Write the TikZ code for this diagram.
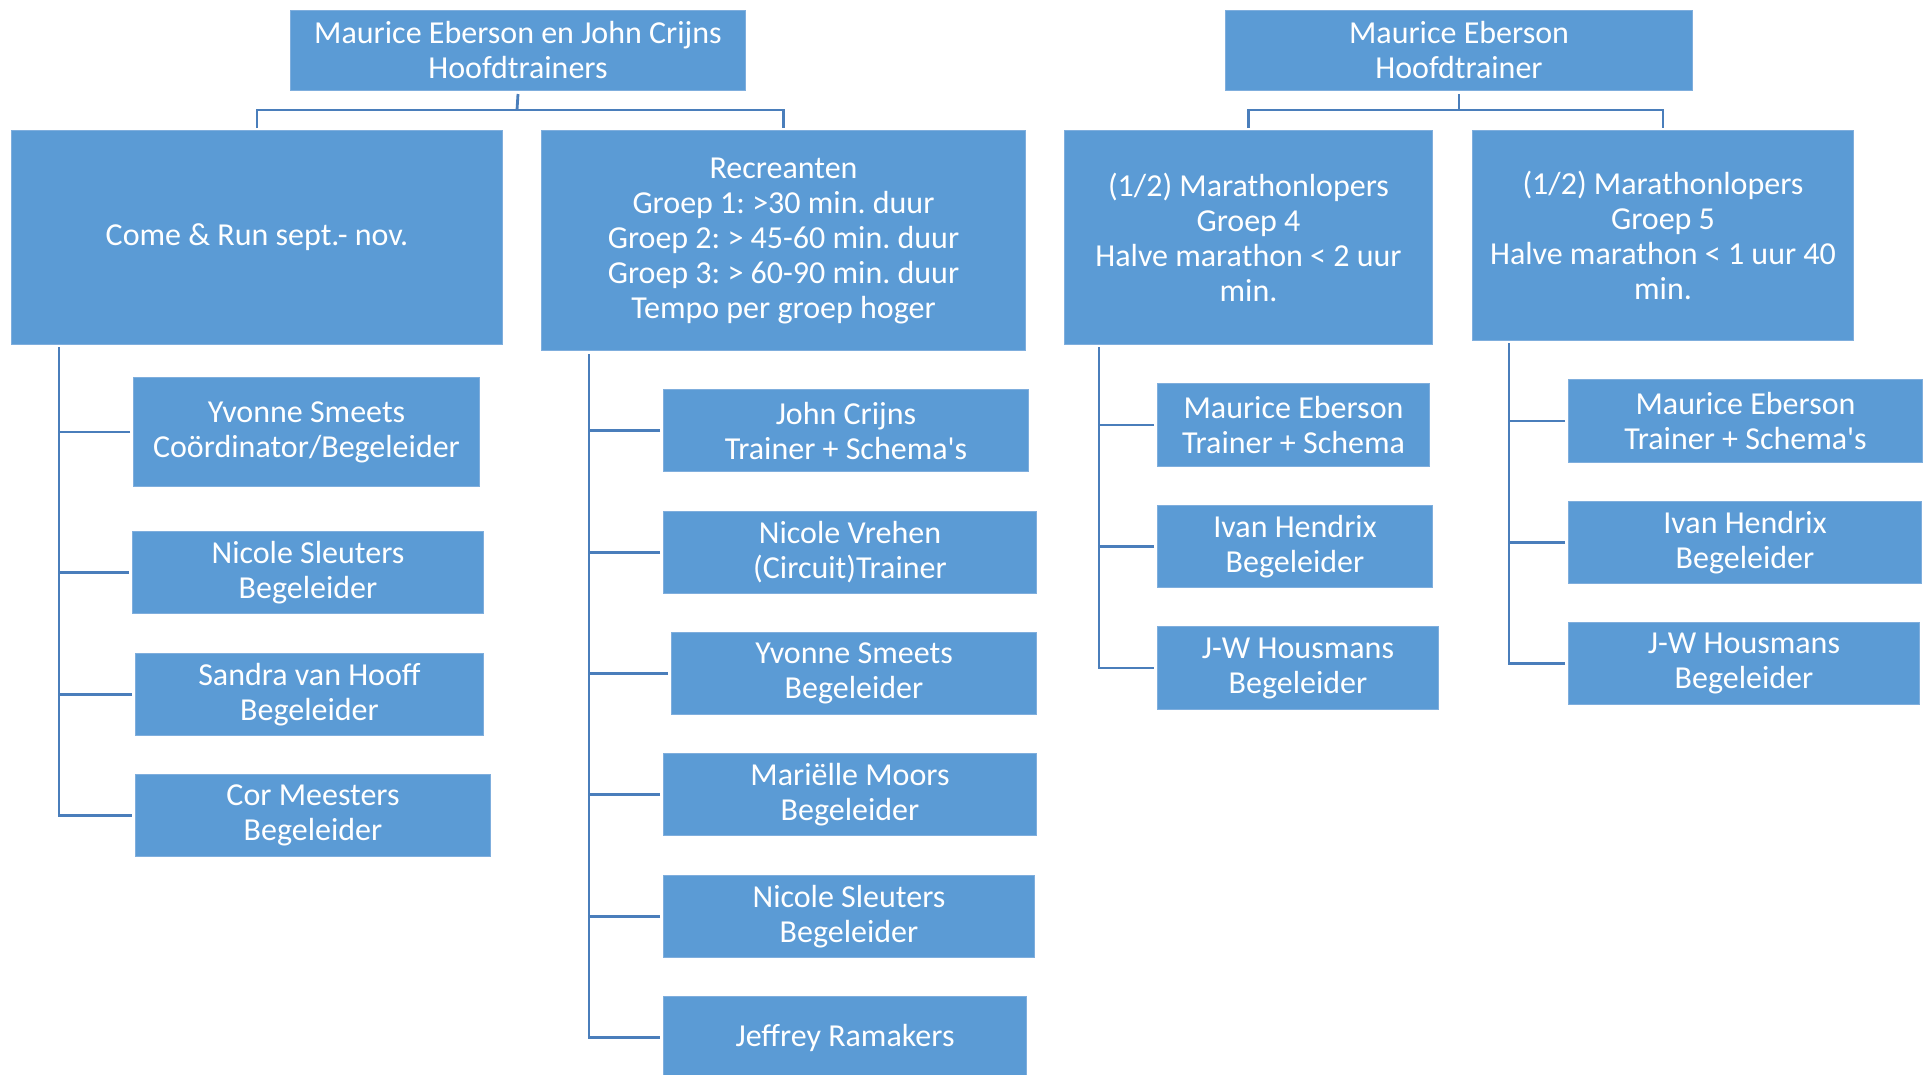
\documentclass[tikz,border=0pt]{standalone}
\usepackage{fontspec}
\setmainfont{Carlito}
\frenchspacing
\definecolor{boxblue}{HTML}{5B9BD5}
\definecolor{boxedge}{HTML}{7FAEDD}
\definecolor{connblue}{HTML}{4A7EBB}
\newcommand{\orgbox}[6]{\node[orgnode, minimum width={#4pt-#2pt}, minimum height={#5pt-#3pt}] (#1) at (#2,#3) {#6};}
\begin{document}
\begin{tikzpicture}[x=1pt,y=-1pt,
  orgnode/.style={fill=boxblue, draw=boxedge, line width=1pt, text=white, align=center,
    font=\fontsize{32}{35}\selectfont, inner sep=0pt, anchor=north west},
  conn/.style={draw=connblue, line width=2.8pt}]
\useasboundingbox (0,0) rectangle (1924,1074);
\clip (0,0) rectangle (1924,1074);
% top level
\orgbox{T1}{290}{10}{745}{90}{Maurice Eberson en John Crijns\\Hoofdtrainers}
\orgbox{T2}{1225}{10}{1692}{90}{Maurice Eberson\\Hoofdtrainer}
% second level
\orgbox{A}{11}{130}{502}{344}{Come \& Run sept.- nov.}
\orgbox{B}{541}{130}{1025}{350}{Recreanten\\Groep 1: >30 min. duur\\Groep 2: > 45-60 min. duur\\Groep 3: > 60-90 min. duur\\Tempo per groep hoger}
\orgbox{C}{1064}{130}{1432}{344}{(1/2) Marathonlopers\\Groep 4\\Halve marathon < 2 uur\\min.}
\orgbox{D}{1472}{130}{1853}{340}{(1/2) Marathonlopers\\Groep 5\\Halve marathon < 1 uur 40\\min.}
% children of A
\orgbox{A1}{133}{377}{479}{486}{Yvonne Smeets\\Coördinator/Begeleider}
\orgbox{A2}{132}{531}{483}{613}{Nicole Sleuters\\Begeleider}
\orgbox{A3}{135}{653}{483}{735}{Sandra van Hooff\\Begeleider}
\orgbox{A4}{135}{774}{490}{856}{Cor Meesters\\Begeleider}
% children of B
\orgbox{B1}{663}{389}{1028}{471}{John Crijns\\Trainer + Schema\textquotesingle s}
\orgbox{B2}{663}{511}{1036}{593}{Nicole Vrehen\\(Circuit)Trainer}
\orgbox{B3}{671}{632}{1036}{714}{Yvonne Smeets\\Begeleider}
\orgbox{B4}{663}{753}{1036}{835}{Mariëlle Moors\\Begeleider}
\orgbox{B5}{663}{875}{1034}{957}{Nicole Sleuters\\Begeleider}
\orgbox{B6}{663}{996}{1026}{1078}{Jeffrey Ramakers}
% children of C
\orgbox{C1}{1157}{383}{1429}{466}{Maurice Eberson\\Trainer + Schema}
\orgbox{C2}{1157}{505}{1432}{587}{Ivan Hendrix\\Begeleider}
\orgbox{C3}{1157}{626}{1438}{709}{J-W Housmans\\Begeleider}
% children of D
\orgbox{D1}{1568}{379}{1922}{462}{Maurice Eberson\\Trainer + Schema\textquotesingle s}
\orgbox{D2}{1568}{501}{1921}{583}{Ivan Hendrix\\Begeleider}
\orgbox{D3}{1568}{622}{1919}{704}{J-W Housmans\\Begeleider}
% level-1 connectors
\coordinate (j1) at (517,110);
\coordinate (j2) at (1459,110);
\draw[conn] (T1.south) ++(0,3) -- (j1);
\draw[conn] (A.north) ++(0,-2) |- (j1) -| ([yshift=2pt]B.north);
\draw[conn] (T2.south) ++(0,3) -- (j2);
\draw[conn] (C.north) ++(0,-2) |- (j2) -| ([yshift=2pt]D.north);
% child connectors
\coordinate (a0) at (59,347);
\coordinate (b0) at (589,354);
\coordinate (c0) at (1099,347);
\coordinate (d0) at (1509,343);
\draw[conn] (a0) |- ([xshift=-3pt]A4.west);
\foreach \n in {A1,A2,A3} \draw[conn] ([xshift=-3pt]\n.west) -- (\n.west -| a0);
\draw[conn] (b0) |- ([xshift=-3pt]B6.west);
\foreach \n in {B1,B2,B3,B4,B5} \draw[conn] ([xshift=-3pt]\n.west) -- (\n.west -| b0);
\draw[conn] (c0) |- ([xshift=-3pt]C3.west);
\foreach \n in {C1,C2} \draw[conn] ([xshift=-3pt]\n.west) -- (\n.west -| c0);
\draw[conn] (d0) |- ([xshift=-3pt]D3.west);
\foreach \n in {D1,D2} \draw[conn] ([xshift=-3pt]\n.west) -- (\n.west -| d0);
\end{tikzpicture}
\end{document}
